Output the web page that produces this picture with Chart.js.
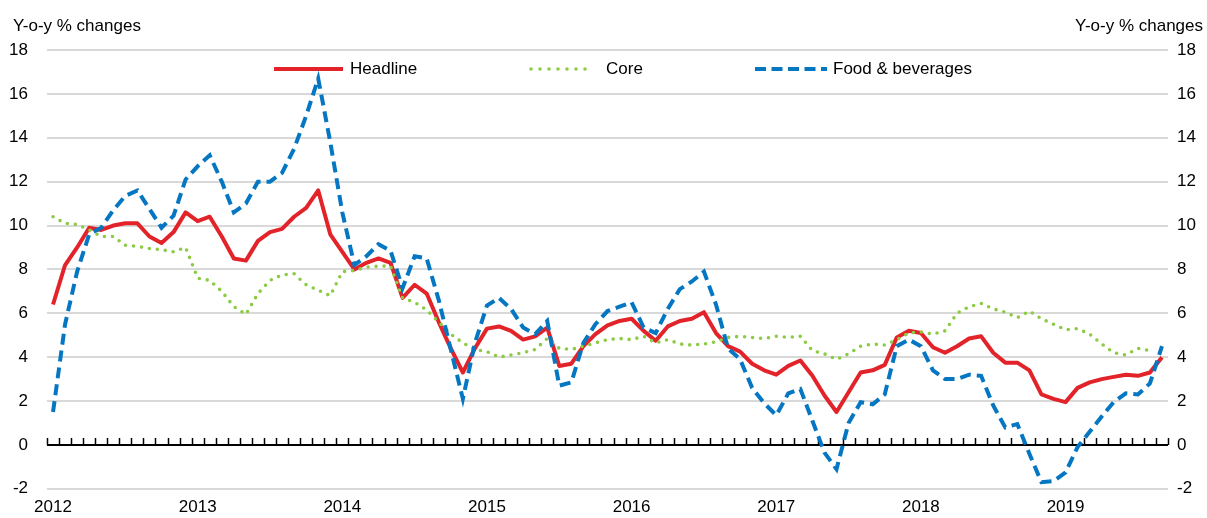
<!DOCTYPE html>
<html>
<head>
<meta charset="utf-8">
<script src="https://cdn.jsdelivr.net/npm/chart.js@4.4.1/dist/chart.umd.min.js"></script>
<style>
  body { margin: 0; background: #fff; }
  #wrap { width: 1207px; height: 518px; }
</style>
</head>
<body>
<div id="wrap"><canvas id="chart" width="1207" height="518"></canvas></div>
<script>
// year labels on the x axis (one per January)
var years = ['2012', '2013', '2014', '2015', '2016', '2017', '2018', '2019'];

// y-o-y % changes, monthly Jan 2012 - Sep 2019
var headline = [
  6.4, 8.2, 9.0, 9.9, 9.8, 10.0, 10.1, 10.1, 9.5, 9.2, 9.7, 10.6,
  10.2, 10.4, 9.5, 8.5, 8.4, 9.3, 9.7, 9.85, 10.4, 10.8, 11.6, 9.6,
  8.8, 8.0, 8.3, 8.5, 8.3, 6.7, 7.3, 6.9, 5.6, 4.4, 3.3, 4.4,
  5.3, 5.4, 5.2, 4.8, 4.95, 5.35, 3.6, 3.7, 4.5, 5.05, 5.45, 5.65,
  5.75, 5.2, 4.75, 5.4, 5.65, 5.75, 6.05, 5.1, 4.5, 4.25, 3.7, 3.4,
  3.2, 3.6, 3.85, 3.15, 2.25, 1.5, 2.4, 3.3, 3.4, 3.65, 4.9, 5.2,
  5.1, 4.45, 4.2, 4.5, 4.85, 4.95, 4.2, 3.75, 3.75, 3.4, 2.3, 2.1,
  1.95, 2.6, 2.85, 3.0, 3.1, 3.2, 3.15, 3.3, 4.0
];
var core = [
  10.4, 10.1, 10.05, 9.8, 9.5, 9.5, 9.1, 9.05, 8.95, 8.9, 8.8, 9.0,
  7.6, 7.5, 7.0, 6.3, 5.95, 6.9, 7.5, 7.75, 7.8, 7.3, 7.05, 6.8,
  7.9, 7.95, 8.1, 8.15, 8.15, 6.7, 6.5, 6.15, 5.6, 5.05, 4.65, 4.35,
  4.25, 4.0, 4.1, 4.2, 4.35, 4.85, 4.4, 4.35, 4.5, 4.65, 4.8, 4.85,
  4.8, 4.95, 4.65, 4.8, 4.6, 4.55, 4.6, 4.7, 4.9, 4.95, 4.9, 4.85,
  4.95, 4.9, 4.95, 4.3, 4.15, 3.9, 4.15, 4.5, 4.6, 4.55, 4.8, 5.1,
  5.15, 5.05, 5.2, 6.0, 6.3, 6.45, 6.2, 6.05, 5.8, 6.1, 5.75, 5.5,
  5.25, 5.3, 5.05, 4.6, 4.2, 4.1, 4.4, 4.3, null
];
var food = [
  1.5, 5.5, 7.9, 9.6, 9.9, 10.7, 11.35, 11.6, 10.75, 9.9, 10.45, 12.1,
  12.7, 13.2, 12.0, 10.6, 11.0, 12.0, 12.0, 12.4, 13.5, 15.0, 16.7, 13.8,
  10.6, 8.2, 8.6, 9.15, 8.85, 7.15, 8.6, 8.5, 6.6, 4.35, 2.1, 4.65,
  6.35, 6.7, 6.2, 5.35, 5.05, 5.65, 2.7, 2.85, 4.65, 5.5, 6.1, 6.3,
  6.5, 5.35, 5.1, 6.2, 7.1, 7.45, 7.9, 6.4, 4.4, 3.9, 2.6, 1.9,
  1.35, 2.35, 2.55, 1.1, -0.35, -1.1, 1.0, 1.95, 1.85, 2.3, 4.5, 4.8,
  4.5, 3.4, 3.0, 3.0, 3.2, 3.15, 1.8, 0.8, 0.95, -0.4, -1.7, -1.65,
  -1.25, -0.1, 0.6, 1.3, 1.95, 2.35, 2.3, 2.8, 4.5
];

var axisTitle = 'Y-o-y % changes';

// one category per month
var months = [];
years.forEach(function(y){
  for (var m = 1; m <= 12; m++) months.push(y + '-' + m);
});
months = months.slice(0, headline.length);

Chart.defaults.font.family = '"Liberation Sans", Arial, sans-serif';
Chart.defaults.font.size = 17;
Chart.defaults.color = '#000';

// legend drawn inside the plot, like the original
var legendPos = [
  { x0: 274, x1: 343, tx: 350 },
  { x0: 531, x1: 594, tx: 606 },
  { x0: 755, x1: 827, tx: 833 }
];

var decor = {
  id: 'decor',
  beforeDatasetsDraw: function(chart){
    var ctx = chart.ctx, a = chart.chartArea;
    var y0 = Math.round(chart.scales.y.getPixelForValue(0));
    var n = chart.data.labels.length;
    var step = (a.right - a.left) / n;
    ctx.save();
    ctx.strokeStyle = '#000';
    ctx.lineWidth = 2;
    ctx.beginPath();
    ctx.moveTo(a.left, y0);
    ctx.lineTo(a.right, y0);
    ctx.stroke();
    ctx.lineWidth = 1.5;
    ctx.beginPath();
    for (var i = 0; i <= n; i++) {
      var x = Math.round(a.left + i * step) + 0.5;
      ctx.moveTo(x, y0);
      ctx.lineTo(x, y0 - 7);
    }
    ctx.stroke();
    ctx.restore();
  },
  afterDraw: function(chart){
    var ctx = chart.ctx;
    ctx.save();
    ctx.font = '17px "Liberation Sans", Arial, sans-serif';
    ctx.fillStyle = '#000';
    ctx.textBaseline = 'alphabetic';
    ctx.textAlign = 'left';
    ctx.fillText(axisTitle, 13, 31);
    ctx.textAlign = 'right';
    ctx.fillText(axisTitle, 1203, 31);

    var ly = 69;
    chart.data.datasets.forEach(function(ds, i){
      var p = legendPos[i];
      ctx.strokeStyle = ds.borderColor;
      ctx.lineWidth = ds.borderWidth;
      ctx.lineCap = ds.borderCapStyle || 'butt';
      ctx.setLineDash(ds.legendDash || []);
      ctx.beginPath();
      ctx.moveTo(p.x0, ly);
      ctx.lineTo(p.x1, ly);
      ctx.stroke();
      ctx.setLineDash([]);
      ctx.textAlign = 'left';
      ctx.textBaseline = 'middle';
      ctx.fillText(ds.label, p.tx, ly);
    });
    ctx.restore();
  }
};

new Chart(document.getElementById('chart'), {
  type: 'line',
  data: {
    labels: months,
    datasets: [
      {
        label: 'Headline',
        data: headline,
        borderColor: '#E2232A',
        borderWidth: 4,
        borderJoinStyle: 'round',
        pointRadius: 0,
        tension: 0,
        order: 3
      },
      {
        label: 'Core',
        data: core,
        borderColor: '#8CCB44',
        borderWidth: 3.6,
        borderCapStyle: 'round',
        borderDash: [0, 8],
        legendDash: [0, 9],
        pointRadius: 0,
        tension: 0,
        order: 2
      },
      {
        label: 'Food & beverages',
        data: food,
        borderColor: '#0577C2',
        borderWidth: 4,
        borderDash: [11, 6],
        legendDash: [11, 5.5],
        pointRadius: 0,
        tension: 0,
        order: 1
      }
    ]
  },
  options: {
    responsive: false,
    devicePixelRatio: 1,
    animation: false,
    layout: { padding: { top: 50, left: 0, right: 0, bottom: 0 } },
    plugins: {
      legend: { display: false },
      tooltip: { enabled: false }
    },
    scales: {
      x: {
        offset: true,
        grid: { display: false },
        border: { display: false },
        ticks: {
          autoSkip: false,
          maxRotation: 0,
          padding: 0,
          callback: function(val, idx){
            return idx % 12 === 0 ? years[idx / 12] : '';
          }
        },
        afterFit: function(s){ s.height = 27; }
      },
      y: {
        position: 'left',
        min: -2,
        max: 18,
        ticks: { stepSize: 2, padding: 19 },
        grid: { color: '#d9d9d9', lineWidth: 2, drawTicks: false },
        border: { display: false },
        afterFit: function(s){ s.width = 47; }
      },
      y2: {
        position: 'right',
        min: -2,
        max: 18,
        ticks: { stepSize: 2, padding: 9 },
        grid: { display: false, drawTicks: false },
        border: { display: false },
        afterFit: function(s){ s.width = 39; }
      }
    }
  },
  plugins: [decor]
});
</script>
</body>
</html>
